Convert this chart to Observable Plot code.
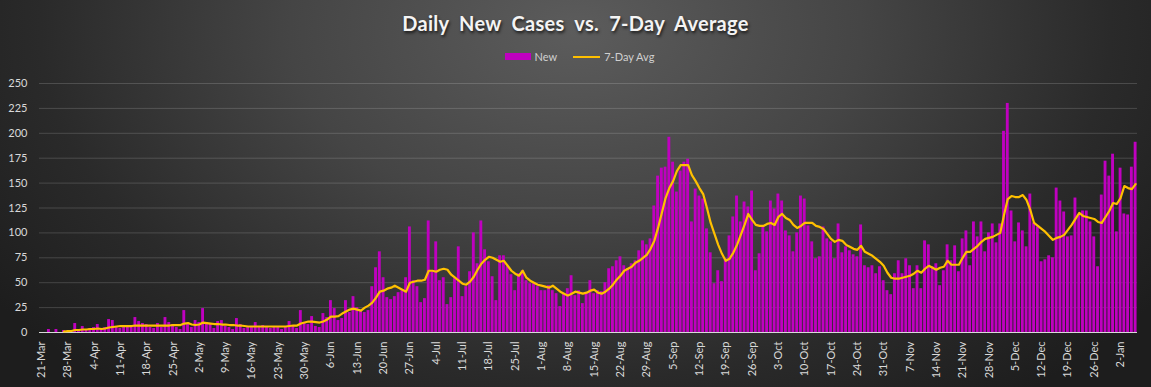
<!DOCTYPE html>
<html>
<head>
<meta charset="utf-8">
<script src="https://cdn.jsdelivr.net/npm/d3@7"></script>
<script src="https://cdn.jsdelivr.net/npm/@observablehq/plot@0.6"></script>
<style>
  html, body { margin: 0; padding: 0; }
  body {
    width: 1151px; height: 387px; overflow: hidden;
    background: radial-gradient(ellipse 62% 120% at 50% 8%, #5c5c5c 0%, #454545 40%, #2a2a2a 75%, #1d1d1d 100%);
    font-family: Lato, "Open Sans", sans-serif;
  }
  #head { height: 70px; position: relative; }
  #title {
    position: absolute; left: 0; right: 0; top: 11px; text-align: center;
    color: #f4f4f4; font-weight: 700; font-size: 20px; word-spacing: 5px; letter-spacing: 0.3px;
    text-shadow: 1px 2px 3px rgba(0,0,0,0.7);
  }
  #legend {
    position: absolute; left: 0; right: 0; top: 50px; display: flex; justify-content: center; align-items: center;
    color: #d0d0d0; font-size: 11px; gap: 4px; padding-left: 8px;
  }
  .sw { display: inline-block; width: 26px; height: 7px; background: #c000c0; }
  .ln { display: inline-block; width: 27px; height: 2px; background: #ffc000; margin-left: 12px; }
  svg { display: block; }
</style>
</head>
<body>
<div id="head">
  <div id="title">Daily New Cases vs. 7-Day Average</div>
  <div id="legend"><span class="sw"></span><span>New</span><span class="ln"></span><span>7-Day Avg</span></div>
</div>
<div id="chart"></div>
<script>
// Daily new cases, one value per day starting 21-Mar
const firstDay = "2020-03-21";
const newCases = [
  0,0,3,0,3,0,2,1,2,9,
  2,6,3,4,5,8,4,5,13,12,
  5,4,6,7,7,15,11,9,8,5,
  4,9,5,15,10,8,5,3,22,8,
  5,12,10,24,10,8,4,11,12,6,
  5,3,14,8,4,6,5,10,5,7,
  5,4,6,5,3,6,11,6,4,22,
  10,8,16,6,5,19,15,32,24,12,
  14,32,20,36,25,22,20,22,46,65,
  81,55,35,33,36,40,42,55,106,52,
  46,30,34,112,61,91,52,55,28,35,
  54,86,36,46,61,100,69,112,83,71,
  56,32,77,77,66,58,42,59,62,52,
  49,49,46,42,42,47,42,39,26,39,
  44,57,37,42,29,39,52,39,42,41,
  50,64,66,72,76,67,64,69,72,82,
  92,88,94,127,157,165,166,196,171,141,
  162,171,174,111,144,137,134,104,80,49,
  62,51,74,97,116,137,111,131,126,142,
  62,79,107,101,132,124,139,132,102,97,
  81,100,137,134,107,91,74,76,106,94,
  91,74,109,80,86,82,78,76,108,67,
  65,67,59,66,52,42,38,59,72,59,
  74,67,44,67,44,92,88,66,69,47,
  62,88,72,87,61,94,102,67,111,96,
  111,81,100,109,90,109,202,230,122,91,
  110,102,86,139,110,106,71,73,77,75,
  145,132,121,96,97,135,118,122,122,111,
  96,66,138,172,157,179,101,165,119,118,
  166,191
];
// 7-day average; it begins on the 7th day (27-Mar)
const avgStartIndex = 6;
const avg7 = [
  1,1.3,1.5,2.5,
  2.5,3,3,3.5,3.5,4,3.5,4,5,5.5,
  6,6.5,6.5,6.5,6.5,7,7,7,7,7,
  7,7,7,7,7,7.5,7.5,7.5,9,9.5,
  8,7.5,8,10,9.5,9,8.5,8.5,8,8,
  7.5,7.5,7,7,6.5,6,6,6,6,6,
  6,6,6,6,6,6,6.5,7,7,9,
  10,11,11,10.5,10,11,13,16,16,16.5,
  19,21,23,24,23,22,25,27,30,35,
  41,42,44,45,47,45,43,41,50,51,
  52,52,53,62,62,61,63,64,63,58,
  55,52,49,48,51,56,63,69,73,76,
  75,73,71,72,67,62,59,57,62,55,
  52,50,48,47,46,45,47,44,41,39,
  37,39,41,40,39,40,42,43,40,39,
  41,44,48,53,57,62,64,66,70,72,
  75,78,84,92,105,120,135,145,152,162,
  168,168,168,158,152,145,139,125,110,99,
  88,79,72,74,80,88,98,108,119,113,
  108,107,107,109,110,108,116,119,115,113,
  108,105,107,110,110,110,107,106,104,99,
  94,91,93,92,88,86,84,83,87,81,
  79,77,74,71,67,60,55,54,54,55,
  56,57,59,62,60,64,67,65,63,65,
  66,72,68,68,68,75,81,81,84,87,
  91,94,95,96,98,100,118,134,137,136,
  136,138,133,123,110,107,104,101,97,93,
  95,96,98,103,108,114,120,117,116,115,
  114,111,110,116,122,130,129,135,147,145,
  144,149
];
const tickLabels = ["21-Mar","28-Mar","4-Apr","11-Apr","18-Apr","25-Apr","2-May","9-May","16-May","23-May","30-May",
  "6-Jun","13-Jun","20-Jun","27-Jun","4-Jul","11-Jul","18-Jul","25-Jul","1-Aug","8-Aug","15-Aug","22-Aug","29-Aug",
  "5-Sep","12-Sep","19-Sep","26-Sep","3-Oct","10-Oct","17-Oct","24-Oct","31-Oct","7-Nov","14-Nov","21-Nov","28-Nov",
  "5-Dec","12-Dec","19-Dec","26-Dec","2-Jan"];
const yTicks = [0,25,50,75,100,125,150,175,200,225,250];
const seriesNames = ["New", "7-Day Avg"];

const day0 = d3.utcParse("%Y-%m-%d")(firstDay);
const dayAt = (i) => d3.utcDay.offset(day0, i);
const midAt = (i) => d3.utcHour.offset(dayAt(i), 12);

const rows = newCases.map((v, i) => ({
  start: dayAt(i), end: dayAt(i + 1), mid: midAt(i), v,
  a: i >= avgStartIndex ? avg7[i - avgStartIndex] : null
}));
const avgRows = rows.filter(d => d.a != null);
const tickDates = tickLabels.map((_, k) => midAt(7 * k));
const labelOf = new Map(tickDates.map((d, k) => [+d, tickLabels[k]]));

const chart = Plot.plot({
  width: 1151,
  height: 317,
  marginTop: 13,
  marginBottom: 55,
  marginLeft: 39,
  marginRight: 14,
  style: { background: "transparent", fontFamily: "Lato, 'Open Sans', sans-serif", color: "#d9d9d9", overflow: "visible" },
  x: { type: "utc", domain: [dayAt(0), dayAt(newCases.length)] },
  y: { domain: [0, 250] },
  marks: [
    Plot.gridY(yTicks.slice(1), { stroke: "#ffffff", strokeOpacity: 0.16, strokeWidth: 1 }),
    Plot.rectY(rows, { x1: "start", x2: "end", y: "v", fill: "#c000c0", insetLeft: 0.45, insetRight: 0.45 }),
    Plot.ruleY([0], { stroke: "#d9d9d9", strokeWidth: 1.2 }),
    Plot.line(avgRows, { x: "mid", y: "a", stroke: "#ffc000", strokeWidth: 2.2, curve: "linear" }),
    Plot.axisY(yTicks, { tickSize: 0, tickPadding: 12, fill: "#d9d9d9", fontSize: 11, label: null }),
    Plot.axisX(tickDates, { tickSize: 0, tickPadding: 9, tickRotate: -90, fill: "#d9d9d9", fontSize: 11, label: null,
      tickFormat: (d) => labelOf.get(+d) })
  ]
});
document.getElementById("chart").appendChild(chart);
</script>
</body>
</html>
